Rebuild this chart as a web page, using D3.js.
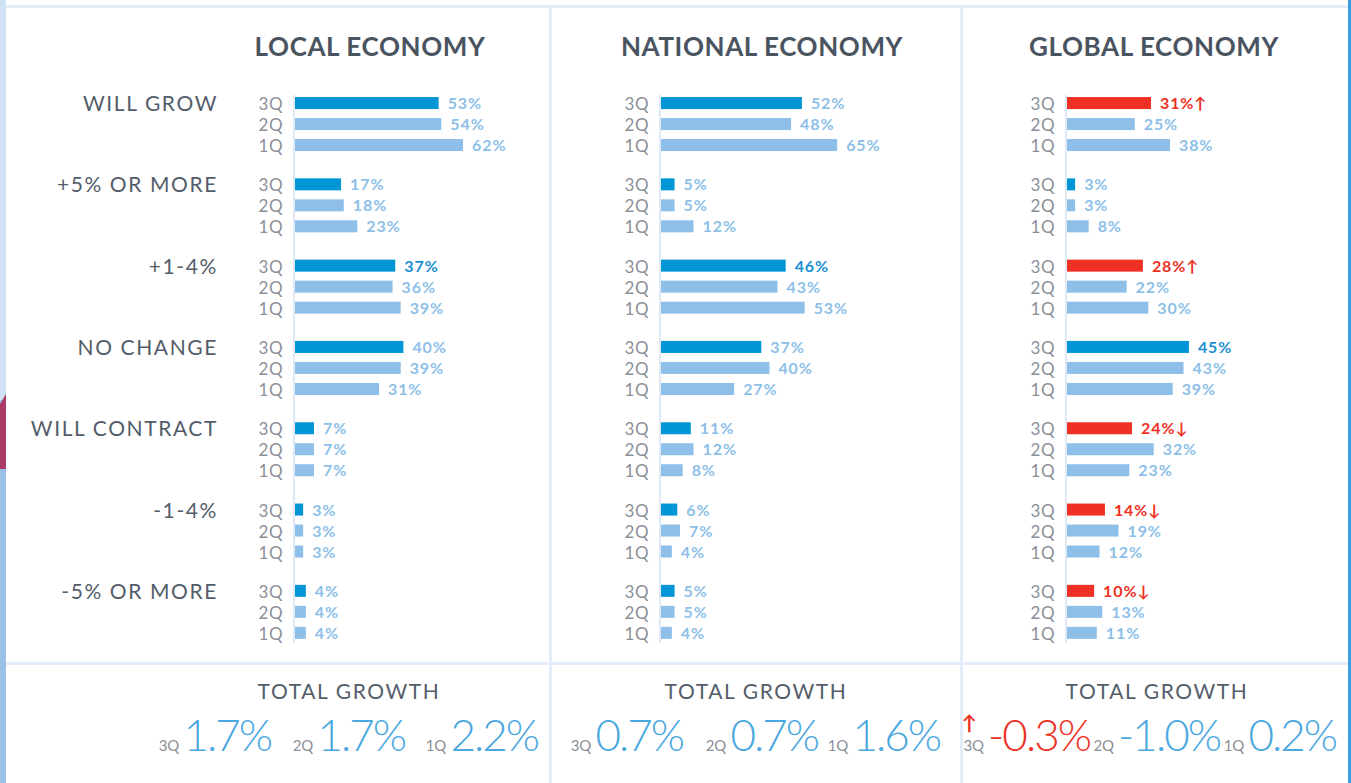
<!DOCTYPE html>
<html><head><meta charset="utf-8">
<script src="https://cdn.jsdelivr.net/npm/d3@7"></script>
<style>
html,body{margin:0;padding:0;background:#fff;}
svg{display:block;font-family:Lato,"Open Sans",sans-serif;}
</style></head>
<body>
<svg id="chart" width="1351" height="783"></svg>
<script>
const categories = ["WILL GROW", "+5% OR MORE", "+1-4%", "NO CHANGE", "WILL CONTRACT", "-1-4%", "-5% OR MORE"];
const quarters = ["3Q", "2Q", "1Q"];
const panelTitles = ["LOCAL ECONOMY", "NATIONAL ECONOMY", "GLOBAL ECONOMY"];
const localValues    = [[53,54,62],[17,18,23],[37,36,39],[40,39,31],[7,7,7],[3,3,3],[4,4,4]];
const nationalValues = [[52,48,65],[5,5,12],[46,43,53],[37,40,27],[11,12,8],[6,7,4],[5,5,4]];
const globalValues   = [[31,25,38],[3,3,8],[28,22,30],[45,43,39],[24,32,23],[14,19,12],[10,13,11]];
// trend flags for 3Q bars ("up" / "down" = red, "" = normal)
const localFlags    = ["","","","","","",""];
const nationalFlags = ["","","","","","",""];
const globalFlags   = ["up","","up","","down","down","down"];
// category index whose 3Q label is highlighted
const highlightIdx = [2, 2, 3];
const totalLabels = ["TOTAL GROWTH","TOTAL GROWTH","TOTAL GROWTH"];
const localTotals    = ["1.7%","1.7%","2.2%"];
const nationalTotals = ["0.7%","0.7%","1.6%"];
const globalTotals   = ["-0.3%","-1.0%","0.2%"];
const globalTotalFlags = ["up","",""];

const panels = [
  {title: panelTitles[0], values: localValues, flags: localFlags, totals: localTotals, tflags: ["","",""], hi: highlightIdx[0]},
  {title: panelTitles[1], values: nationalValues, flags: nationalFlags, totals: nationalTotals, tflags: ["","",""], hi: highlightIdx[1]},
  {title: panelTitles[2], values: globalValues, flags: globalFlags, totals: globalTotals, tflags: globalTotalFlags, hi: highlightIdx[2]}
];
// layout
const barX0 = [295, 661, 1067];
const titleX = [370, 762, 1154];
const totalX = [349, 756, 1157];
const totalRight = [[271,405,538],[683,818,940],[1090,1220,1336]];

const C = {dark:"#0096d6", light:"#8dbfe8", red:"#ee3124", text:"#535d6a", q:"#8c9097", grid:"#e4eefa", axis:"#dfe9f6"};

const svg = d3.select("#chart");

// frame
svg.append("rect").attr("x",0).attr("y",0).attr("width",1351).attr("height",783).attr("fill","#fff");
svg.append("rect").attr("x",6).attr("y",5).attr("width",1342).attr("height",3).attr("fill",C.grid);
svg.append("rect").attr("x",6).attr("y",662).attr("width",1342).attr("height",3).attr("fill",C.grid);
svg.append("rect").attr("x",549).attr("y",8).attr("width",3).attr("height",775).attr("fill",C.grid);
svg.append("rect").attr("x",960).attr("y",8).attr("width",3).attr("height",775).attr("fill",C.grid);
// left strip
svg.append("rect").attr("x",0).attr("y",0).attr("width",6).attr("height",783).attr("fill","#9ac2e9");
svg.append("rect").attr("x",0).attr("y",0).attr("width",6).attr("height",400).attr("fill","#cfe2f5");
svg.append("path").attr("d","M0,404 L6,394 L6,469 L0,469 Z").attr("fill","#a93b66");
// right edge
svg.append("rect").attr("x",1348).attr("y",0).attr("width",3).attr("height",783).attr("fill","#3a9fe0");

const y = d3.scaleBand().domain(categories).range([83.4, 652.5]);
const yq = d3.scaleBand().domain(quarters).range([-31.5, 31.5]);
const x = d3.scaleLinear().domain([0, 100]).range([0, 271]);
const barH = 12;
const rowY = (c, q) => y(c) + y.bandwidth()/2 + yq(q) + yq.bandwidth()/2;

// category labels
svg.append("g").selectAll("text").data(categories).join("text")
  .attr("x", 218).attr("y", d => rowY(d, "3Q") + 8)
  .attr("text-anchor","end").attr("font-size",21).attr("letter-spacing",1.6)
  .attr("fill", C.text).text(d => d);

panels.forEach((p, pi) => {
  const g = svg.append("g");
  const x0 = barX0[pi];
  g.append("text").attr("x", titleX[pi]).attr("y", 56).attr("text-anchor","middle")
    .attr("font-size",26).attr("font-weight",700).attr("letter-spacing",0.6).attr("fill","#4a5461").text(p.title);
  g.append("rect").attr("x", x0-2).attr("y", 95).attr("width",2).attr("height",548).attr("fill",C.axis);

  const rows = [];
  categories.forEach((c, ci) => quarters.forEach((q, qi) => {
    rows.push({c, ci, q, qi, v: p.values[ci][qi], flag: qi === 0 ? p.flags[ci] : ""});
  }));
  const cy = d => rowY(d.c, d.q);

  g.selectAll("text.q").data(rows).join("text").attr("class","q")
    .attr("x", x0 - 12).attr("y", d => cy(d) + 7).attr("text-anchor","end")
    .attr("font-size",17).attr("letter-spacing",0.5).attr("fill",C.q).text(d => d.q);

  g.selectAll("rect.bar").data(rows).join("rect").attr("class","bar")
    .attr("x", x0).attr("y", d => cy(d) - barH/2)
    .attr("width", d => x(d.v)).attr("height", barH)
    .attr("fill", d => d.flag ? C.red : (d.qi === 0 ? C.dark : C.light));

  g.selectAll("text.v").data(rows).join("text").attr("class","v")
    .attr("x", d => x0 + x(d.v) + 9).attr("y", d => cy(d) + 6)
    .attr("font-size",16).attr("font-weight",700).attr("letter-spacing",0.9)
    .attr("fill", d => d.flag ? C.red : (d.qi === 0 && d.ci === p.hi ? "#1b8fd2" : C.light))
    .text(d => d.v + "%" + (d.flag === "up" ? "↑" : d.flag === "down" ? "↓" : ""));

  // totals
  g.append("text").attr("x", totalX[pi]).attr("y", 699).attr("text-anchor","middle")
    .attr("font-size",21).attr("letter-spacing",1.6).attr("fill",C.text).text(totalLabels[pi]);
  p.totals.forEach((t, ti) => {
    const red = p.tflags[ti] === "up" || p.tflags[ti] === "down";
    const num = g.append("text").attr("x", totalRight[pi][ti]).attr("y", 751).attr("text-anchor","end")
      .attr("font-size",44).attr("font-weight",300).attr("letter-spacing",-2)
      .attr("fill", red ? C.red : "#4aa8e0").text(t);
    const w = num.node().getComputedTextLength();
    const qx = totalRight[pi][ti] - w - 4;
    const ql = g.append("text").attr("x", qx).attr("y", 751).attr("text-anchor","end")
      .attr("font-size",15).attr("fill",C.q).text(quarters[ti]);
    if (red) {
      const qw = ql.node().getComputedTextLength();
      g.append("text").attr("x", qx - qw + 6).attr("y", 730).attr("text-anchor","middle")
        .attr("font-size",20).attr("font-weight",700).attr("fill",C.red).text(p.tflags[ti] === "up" ? "↑" : "↓");
    }
  });
});
</script>
</body></html>
